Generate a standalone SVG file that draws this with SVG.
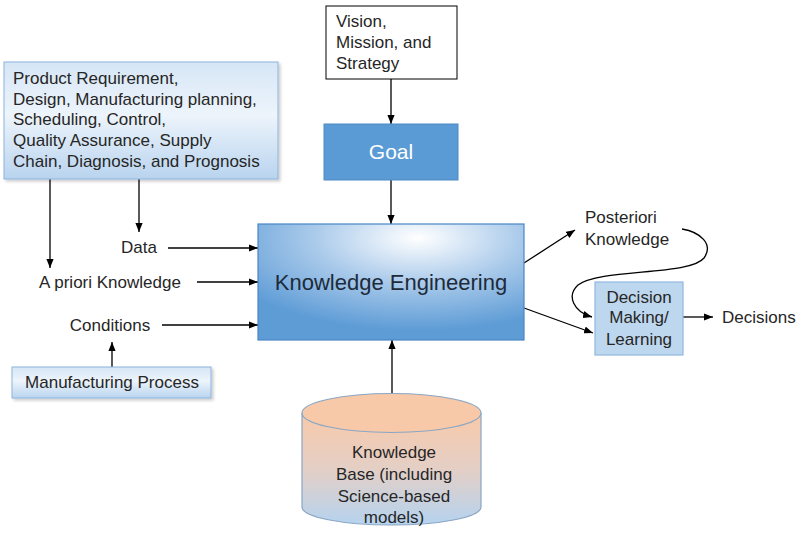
<svg xmlns="http://www.w3.org/2000/svg" width="800" height="540" viewBox="0 0 800 540">
<style>
text{font-family:"Liberation Sans",Arial,sans-serif;font-size:17px;fill:#262626}
.c{text-anchor:middle}
.ln{stroke:#000;stroke-width:1.3;fill:none}
.lt{fill:url(#lb);stroke:#8db3dd;stroke-width:1}
</style>
<defs>
<marker id="ah" viewBox="0 0 10 8" markerWidth="9" markerHeight="7.2" refX="10" refY="4" orient="auto" markerUnits="userSpaceOnUse"><path d="M0,0 L10,4 L0,8 z" fill="#000"/></marker>
<linearGradient id="lb" x1="0" y1="0" x2="0" y2="1"><stop offset="0" stop-color="#d6e6f6"/><stop offset="0.45" stop-color="#edf4fb"/><stop offset="1" stop-color="#b9d4ef"/></linearGradient>
<radialGradient id="ke" cx="0.6" cy="0.12" r="0.8"><stop offset="0" stop-color="#ffffff"/><stop offset="0.5" stop-color="#a8c9ea"/><stop offset="1" stop-color="#5e9cd6"/></radialGradient>
<linearGradient id="cy" x1="0" y1="0" x2="0" y2="1"><stop offset="0" stop-color="#f8c9a9"/><stop offset="0.5" stop-color="#e4cfc6"/><stop offset="1" stop-color="#b5d3ef"/></linearGradient>
<filter id="sh" x="-5%" y="-5%" width="115%" height="120%"><feDropShadow dx="2" dy="2" stdDeviation="1.5" flood-color="#000" flood-opacity="0.2"/></filter>
</defs>

<g id="connectors">
<line class="ln" x1="391" y1="79" x2="391" y2="124" marker-end="url(#ah)"/>
<line class="ln" x1="391" y1="180" x2="391" y2="224" marker-end="url(#ah)"/>
<line class="ln" x1="50" y1="179" x2="50" y2="268" marker-end="url(#ah)"/>
<line class="ln" x1="139" y1="179" x2="139" y2="232" marker-end="url(#ah)"/>
<line class="ln" x1="168" y1="248" x2="258" y2="248" marker-end="url(#ah)"/>
<line class="ln" x1="197" y1="282" x2="258" y2="282" marker-end="url(#ah)"/>
<line class="ln" x1="162" y1="325" x2="258" y2="325" marker-end="url(#ah)"/>
<line class="ln" x1="112" y1="367" x2="112" y2="342" marker-end="url(#ah)"/>
<line class="ln" x1="392" y1="393" x2="392" y2="340" marker-end="url(#ah)"/>
<line class="ln" x1="524" y1="263" x2="575" y2="230" marker-end="url(#ah)"/>
<line class="ln" x1="524" y1="308" x2="593" y2="333" marker-end="url(#ah)"/>
<line class="ln" x1="683" y1="317" x2="713" y2="317" marker-end="url(#ah)"/>
<path class="ln" d="M682,229 C700,232 714,244 704,258 C690,276 600,268 578,285 C566,296 574,312 592,317" marker-end="url(#ah)"/>
</g>

<g id="vision">
<rect x="326" y="6" width="131" height="73" fill="#fff" stroke="#000" stroke-width="1"/>
<text x="336" y="27">Vision,</text>
<text x="336" y="48">Mission, and</text>
<text x="336" y="69">Strategy</text>
</g>

<g id="goal">
<rect x="324" y="124" width="134" height="56" fill="#5b9bd5" stroke="#4f89c4" stroke-width="1"/>
<text class="c" x="391" y="159" style="font-size:21px;fill:#fff">Goal</text>
</g>

<g id="product">
<rect class="lt" x="4" y="62" width="274" height="117" filter="url(#sh)"/>
<text x="13" y="84">Product Requirement,</text>
<text x="13" y="105">Design, Manufacturing planning,</text>
<text x="13" y="125">Scheduling, Control,</text>
<text x="13" y="146">Quality Assurance, Supply</text>
<text x="13" y="167">Chain, Diagnosis, and Prognosis</text>
</g>

<g id="data"><text class="c" x="139" y="253">Data</text></g>
<g id="apriori"><text class="c" x="110" y="288">A priori Knowledge</text></g>
<g id="conditions"><text class="c" x="110" y="331">Conditions</text></g>

<g id="process">
<rect class="lt" x="12" y="367" width="199" height="31" filter="url(#sh)"/>
<text class="c" x="112" y="388">Manufacturing Process</text>
</g>

<g id="ke">
<rect x="258" y="224" width="266" height="116" fill="url(#ke)" stroke="#4a86c5" stroke-width="1.2"/>
<text class="c" x="391" y="290" style="font-size:22px;fill:#1d2b3a">Knowledge Engineering</text>
</g>

<g id="kb">
<path d="M302,413 L302,507 A89.5,18 0 0 0 481,507 L481,413" fill="url(#cy)" stroke="#8aa6c4" stroke-width="1.2"/>
<ellipse cx="391.5" cy="413" rx="89.5" ry="19.5" fill="#f8c9a9" stroke="#8aa6c4" stroke-width="1.2"/>
<text class="c" x="394" y="458">Knowledge</text>
<text class="c" x="394" y="480">Base (including</text>
<text class="c" x="394" y="502">Science-based</text>
<text class="c" x="394" y="523">models)</text>
</g>

<g id="posteriori">
<text x="585" y="223">Posteriori</text>
<text x="585" y="245">Knowledge</text>
</g>

<g id="decision">
<rect x="595" y="282" width="88" height="73" fill="#bdd7ee" stroke="#8fb7e0" stroke-width="1.2"/>
<text class="c" x="639" y="303">Decision</text>
<text class="c" x="639" y="323">Making/</text>
<text class="c" x="639" y="345">Learning</text>
</g>

<g id="decisions"><text x="722" y="323">Decisions</text></g>
</svg>
